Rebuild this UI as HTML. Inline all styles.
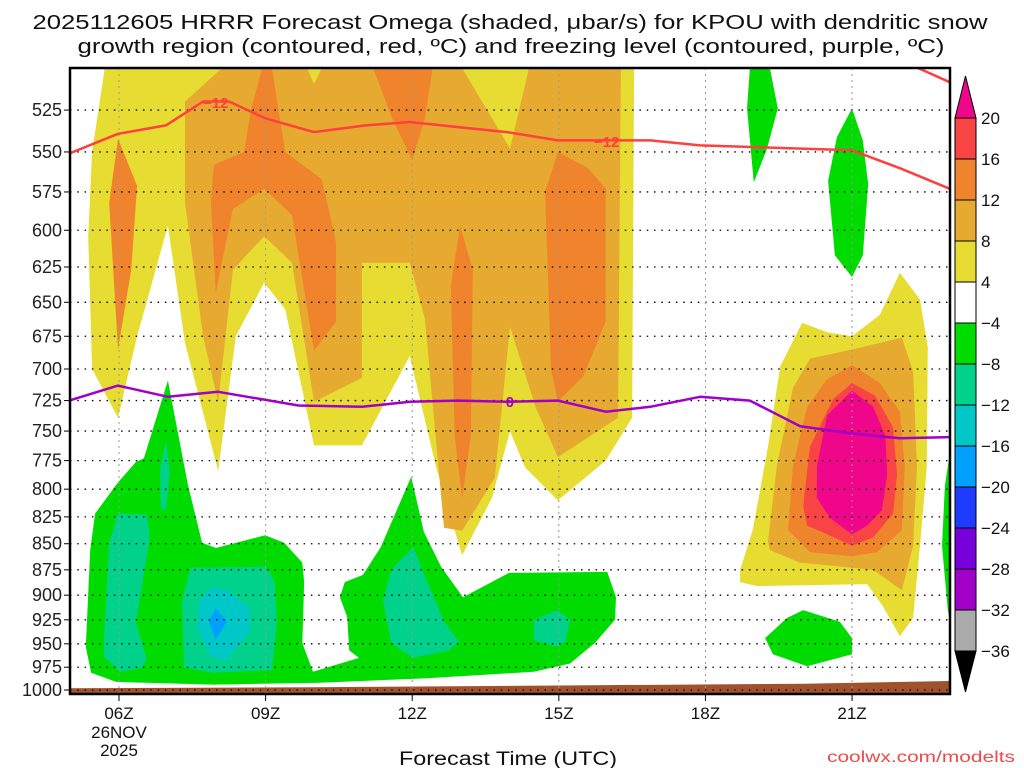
<!DOCTYPE html>
<html><head><meta charset="utf-8"><title>HRRR Omega KPOU</title>
<style>
html,body{margin:0;padding:0;background:#fff;}
svg{display:block;font-family:"Liberation Sans",sans-serif;}
</style></head>
<body>
<svg id="chart" width="1024" height="768" viewBox="0 0 1024 768" xmlns="http://www.w3.org/2000/svg">
<text x="510" y="29" font-size="20" text-anchor="middle" textLength="955" lengthAdjust="spacingAndGlyphs" fill="#111">2025112605 HRRR Forecast Omega (shaded, μbar/s) for KPOU with dendritic snow</text>
<text x="511" y="53" font-size="20" text-anchor="middle" textLength="867" lengthAdjust="spacingAndGlyphs" fill="#111">growth region (contoured, red, ºC) and freezing level (contoured, purple, ºC)</text>
<g id="plot"></g>
<g id="axes"></g>
<g id="cbar"></g>
<text x="508" y="765" font-size="19" text-anchor="middle" textLength="218" lengthAdjust="spacingAndGlyphs" fill="#111">Forecast Time (UTC)</text>
<text x="1015" y="762" font-size="16" text-anchor="end" textLength="188" lengthAdjust="spacingAndGlyphs" fill="#f04848">coolwx.com/modelts</text>
</svg>
<script>
// ---- data (hours UTC, pressure hPa) ----
const pressureTicks = [525,550,575,600,625,650,675,700,725,750,775,800,825,850,875,900,925,950,975,1000];
const timeTicks = [6,9,12,15,18,21];
const timeLabels = ["06Z","09Z","12Z","15Z","18Z","21Z"];
const cbarLevels = [20,16,12,8,4,-4,-8,-12,-16,-20,-24,-28,-32,-36];
const cbarColors = ["#f0068a","#f84444","#f0842c","#e6aa30","#e6dc32","#ffffff","#00dc00","#00d28c","#00c8c8","#00a0ff","#1e3cff","#7800dc","#a000c8","#aaaaaa","#000000"];

const yellowMain = [[5.71,501],[5.45,550],[5.37,604],[5.45,700],[5.98,739],[6.37,675],[7.00,597],[7.35,680],[8.03,784],[8.39,675],[8.97,636],[9.40,655],[9.99,762],[10.97,762],[11.95,690],[12.49,781],[13.02,861],[13.63,808],[14.00,750],[14.31,781],[14.98,810],[15.96,775],[16.50,739],[16.54,501]];
const yellowRight = [[18.71,875],[18.97,837],[19.28,763],[19.53,698],[19.98,665],[20.49,672],[21.00,675],[21.57,659],[21.98,629],[22.39,648],[22.55,683],[22.53,780],[22.39,852],[22.25,923],[21.98,942],[21.63,911],[21.31,889],[19.06,891],[18.71,887]];
const orangeLightMain = [[8.11,501],[7.35,520],[7.35,582],[7.72,675],[8.03,726],[8.33,627],[8.97,604],[9.54,622],[9.99,726],[10.97,707],[10.97,622],[11.95,622],[12.26,662],[12.65,835],[13.02,838],[13.69,790],[14.00,668],[14.53,731],[14.98,772],[16.21,739],[16.27,501],[14.39,501],[14.00,548],[13.02,501],[10.15,501],[9.99,510],[9.85,501]];
const orangeLightRight = [[19.28,848],[19.46,780],[19.79,715],[20.14,692],[21.00,685],[22.02,676],[22.25,702],[22.33,780],[22.25,852],[22.02,895],[21.43,875],[19.94,868],[19.32,856]];
const orangeDark1 = [[5.98,542],[6.37,571],[6.25,627],[5.98,685],[5.80,582]];
const orangeDark2 = [[8.93,501],[8.70,525],[8.56,550],[7.94,558],[7.88,582],[7.98,643],[8.33,586],[8.97,573],[9.54,590],[9.99,686],[10.44,664],[10.44,608],[10.15,567],[9.40,550],[9.13,501]];
const orangeDark3 = [[11.20,501],[12.42,501],[12.26,530],[12.00,555],[11.59,530]];
const orangeDark4 = [[12.98,597],[13.24,627],[13.20,754],[13.02,808],[12.87,754],[12.79,638]];
const orangeDark5 = [[14.98,550],[15.60,560],[15.96,573],[15.96,664],[15.51,705],[14.98,726],[14.84,700],[14.72,575]];
const orangeDarkRight = [[19.69,837],[19.79,780],[20.08,730],[20.49,708],[21.00,697],[21.57,711],[21.98,734],[22.08,780],[22.02,837],[21.51,858],[21.00,862],[20.14,858]];
const redRight = [[20.00,815],[20.14,763],[20.61,724],[21.00,711],[21.47,721],[21.84,747],[21.92,787],[21.84,822],[21.43,844],[21.00,852],[20.49,841],[20.08,833]];
const pinkRight = [[20.28,780],[20.49,737],[21.00,717],[21.43,730],[21.68,754],[21.72,787],[21.61,819],[21.31,833],[21.00,841],[20.55,826],[20.28,808]];
const greenMain = [[7.00,709],[7.41,796],[7.70,849],[7.98,854],[8.99,842],[9.38,849],[9.75,868],[9.79,887],[9.75,949],[9.97,980],[10.91,965],[10.71,957],[10.67,922],[10.52,902],[10.62,887],[10.99,880],[11.36,853],[11.98,789],[12.24,839],[12.59,872],[13.04,902],[13.98,878],[15.99,877],[16.17,902],[16.15,925],[15.74,949],[15.23,971],[14.49,980],[12.30,987],[10.11,992],[7.92,994],[5.94,991],[5.43,981],[5.32,953],[5.41,856],[5.51,822],[5.98,794],[6.35,776],[6.51,773]];
const greenTop1 = [[18.91,501],[19.32,501],[19.48,524],[19.26,548],[18.99,569],[18.85,524]];
const greenTop2 = [[21.00,524],[21.22,543],[21.33,570],[21.22,617],[21.00,632],[20.65,617],[20.51,568],[20.69,541]];
const greenLow = [[19.22,944],[19.67,923],[20.00,915],[20.75,927],[21.00,944],[21.00,961],[20.08,974],[19.38,961]];
const greenEdge = [[23.00,769],[22.90,797],[22.84,852],[22.96,915],[23.00,925]];
const teal1 = [[5.98,822],[6.57,823],[6.63,844],[6.35,928],[6.57,967],[6.45,976],[6.02,980],[5.69,964],[5.69,946],[5.80,849]];
const teal2 = [[6.96,758],[7.04,785],[6.96,819],[6.86,817],[6.84,783]];
const teal3 = [[7.47,873],[9.01,872],[9.19,887],[9.23,928],[9.13,978],[7.92,981],[7.33,975],[7.29,905]];
const teal4 = [[12.02,853],[12.31,887],[12.67,928],[12.96,948],[12.75,957],[12.02,965],[11.57,949],[11.40,905],[11.57,875]];
const teal5 = [[14.96,915],[15.23,925],[15.13,948],[14.94,953],[14.49,946],[14.49,925]];
const cyan1 = [[7.92,892],[8.21,895],[8.66,912],[8.68,936],[8.21,967],[7.88,964],[7.60,933],[7.64,905]];
const blue1 = [[7.98,913],[8.21,927],[7.98,946],[7.84,927]];

const groundHours = [4.98,10,15,20,23];
const groundPres = [998,997,995,993,990];

const dgzHours = [4.98,5.98,6.96,7.72,8.25,9.01,9.99,11.05,11.95,12.94,13.94,14.98,16.27,16.87,17.89,21.00,21.98,23.00];
const dgzPres = [551,539,534,520,520,530,538,534,532,535,538,543,543,543,546,549,560,573];
const dgz2Hours = [22.35,23.0];
const dgz2Pres = [501,509];
const frzHours = [4.98,5.98,7.00,8.03,9.67,10.97,11.95,12.94,13.94,14.98,15.96,16.87,17.89,18.91,19.94,21.00,21.98,23.00];
const frzPres = [725,713,722,718,729,730,726,725,726,725,734,730,722,725,746,752,756,755];

// ---- scales ----
const X0=70, X1=950, Y0=68, Y1=694;
function xs(h){ return 119 + (h-6)*48.87; }
function ys(p){ return 690 - 900*Math.log(1000/p); }
const NS="http://www.w3.org/2000/svg";
function mk(tag, attrs, parent){ const e=document.createElementNS(NS,tag); for(const k in attrs) e.setAttribute(k,attrs[k]); parent.appendChild(e); return e; }
function pts(arr){ return arr.map(d=>xs(d[0]).toFixed(1)+","+ys(d[1]).toFixed(1)).join(" "); }

const plot=document.getElementById('plot');
const clip=mk('clipPath',{id:'pc'},plot);
mk('rect',{x:X0,y:Y0,width:X1-X0,height:Y1-Y0},clip);
const g=mk('g',{'clip-path':'url(#pc)'},plot);

const fills=[
 [yellowMain,'#e6dc32','shade-yellow-main'],[yellowRight,'#e6dc32','shade-yellow-right'],
 [orangeLightMain,'#e6aa30','shade-light-orange-main'],[orangeLightRight,'#e6aa30','shade-light-orange-right'],
 [orangeDark1,'#f0842c','shade-orange-1'],[orangeDark2,'#f0842c','shade-orange-2'],[orangeDark3,'#f0842c','shade-orange-3'],
 [orangeDark4,'#f0842c','shade-orange-4'],[orangeDark5,'#f0842c','shade-orange-5'],[orangeDarkRight,'#f0842c','shade-orange-right'],
 [redRight,'#f84444','shade-red-right'],[pinkRight,'#f0068a','shade-pink-right'],
 [greenMain,'#00dc00','shade-green-main'],[greenTop1,'#00dc00','shade-green-top-1'],[greenTop2,'#00dc00','shade-green-top-2'],
 [greenLow,'#00dc00','shade-green-low'],[greenEdge,'#00dc00','shade-green-edge'],
 [teal1,'#00d28c','shade-teal-1'],[teal2,'#00d28c','shade-teal-2'],[teal3,'#00d28c','shade-teal-3'],[teal4,'#00d28c','shade-teal-4'],[teal5,'#00d28c','shade-teal-5'],
 [cyan1,'#00c8c8','shade-cyan'],[blue1,'#00a0ff','shade-blue']
];
fills.forEach(f=>{
  const el=mk('polygon',{points:pts(f[0]),fill:f[1]},g);
  
  
});

// ground
const gp=groundHours.map((h,i)=>[h,groundPres[i]]);
let gstr=pts(gp)+" "+xs(23)+","+Y1+" "+xs(4.98)+","+Y1;
const ground=mk('polygon',{points:gstr,fill:'#a0522d'},g);



// grid
pressureTicks.forEach(p=>{
  const l=mk('line',{x1:X0,x2:X1,y1:ys(p),y2:ys(p),stroke:'#000','stroke-width':1.3,'stroke-dasharray':'1.5 5.8'},g);
  
  
});
timeTicks.forEach(t=>{
  const l=mk('line',{x1:xs(t),x2:xs(t),y1:Y0,y2:Y1,stroke:'#999','stroke-width':1,'stroke-dasharray':'2 4'},g);
  
  
});

// contour lines
function line(hs,ps,color,name){
  const a=hs.map((h,i)=>[h,ps[i]]);
  const el=mk('polyline',{points:pts(a),fill:'none',stroke:color,'stroke-width':2.5,'stroke-linejoin':'round'},g);
  
  
}
line(dgzHours,dgzPres,'#ff4040','dgz-minus12-contour');
line(dgz2Hours,dgz2Pres,'#ff4040','dgz-minus12-contour-top');
line(frzHours,frzPres,'#a000c8','freezing-level-contour');
function clabel(txt,h,p,color,name){
  const t=mk('text',{x:xs(h),y:ys(p)+5,'font-size':15,'font-weight':'bold','text-anchor':'middle',fill:color},g);
  t.textContent=txt;
  
  
}
clabel('−12',7.98,521,'#ff4040','dgz-label-1');
clabel('−12',15.98,544,'#ff4040','dgz-label-2');
clabel('0',14.0,726,'#a000c8','freezing-level-label');

// axes
const ax=document.getElementById('axes');
const frame=mk('rect',{x:X0,y:Y0,width:X1-X0,height:Y1-Y0,fill:'none',stroke:'#000','stroke-width':2.5},ax);


pressureTicks.forEach(p=>{
  mk('line',{x1:X0-6,x2:X0,y1:ys(p),y2:ys(p),stroke:'#000','stroke-width':1},ax);
  const t=mk('text',{x:X0-8,y:ys(p)+6,'font-size':18,'text-anchor':'end',fill:'#222'},ax);
  t.textContent=p;
  
  
});
timeTicks.forEach((h,i)=>{
  mk('line',{x1:xs(h),x2:xs(h),y1:Y1,y2:Y1+7,stroke:'#000','stroke-width':1},ax);
  const t=mk('text',{x:xs(h),y:Y1+25,'font-size':17,'text-anchor':'middle',fill:'#111'},ax);
  t.textContent=timeLabels[i];
  
  
});
const d1=mk('text',{x:xs(6),y:Y1+44,'font-size':17,'text-anchor':'middle',fill:'#111'},ax);
d1.textContent='26NOV';


const d2=mk('text',{x:xs(6),y:Y1+62,'font-size':17,'text-anchor':'middle',fill:'#111'},ax);
d2.textContent='2025';



// colorbar
const cb=document.getElementById('cbar');
const CX0=955, CX1=976, CTOP=118, CSTEP=41;
const tri=mk('polygon',{points:`${CX0},${CTOP} ${CX1},${CTOP} ${(CX0+CX1)/2},76`,fill:cbarColors[0],stroke:'#000','stroke-width':1},cb);


for(let i=0;i<cbarLevels.length-1;i++){
  const r=mk('rect',{x:CX0,y:CTOP+i*CSTEP,width:CX1-CX0,height:CSTEP,fill:cbarColors[i+1],stroke:'#000','stroke-width':1},cb);
  
  
}
const yb=CTOP+(cbarLevels.length-1)*CSTEP;
const tri2=mk('polygon',{points:`${CX0},${yb} ${CX1},${yb} ${(CX0+CX1)/2},692`,fill:cbarColors[cbarColors.length-1],stroke:'#000','stroke-width':1},cb);


cbarLevels.forEach((v,i)=>{
  const t=mk('text',{x:981,y:CTOP+i*CSTEP+6,'font-size':17,fill:'#111'},cb);
  t.textContent=v<0?('−'+(-v)):String(v);
  
  
});
</script>
</body></html>
